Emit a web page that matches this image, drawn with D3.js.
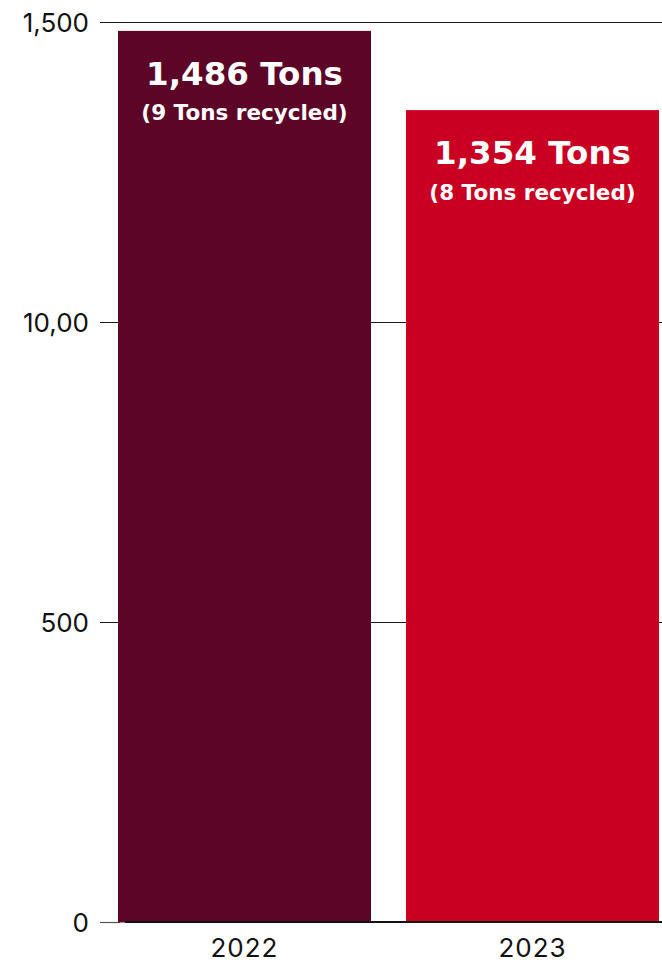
<!DOCTYPE html>
<html>
<head>
<meta charset="utf-8">
<script src="https://cdn.jsdelivr.net/npm/d3@7"></script>
<style>
  html, body { margin: 0; padding: 0; background: #fff; }
  svg { display: block; }
</style>
</head>
<body>
<svg id="chart" width="662" height="964"></svg>
<script>
const years = ["2022", "2023"];
const tons = [1486, 1354];
const recycled = [9, 8];
const barColors = ["#5c0527", "#c90022"];
const tickValues = [0, 500, 1000, 1500];
const tickLabels = ["0", "500", "10,00", "1,500"];

const svg = d3.select("#chart");
const W = 662, H = 964;

const y = d3.scaleLinear().domain([0, 1500]).range([922.5, 22.5]);
const x = d3.scaleBand().domain(years).range([118, 659]).paddingInner(0.1215).paddingOuter(0);

// gridlines
svg.append("g").selectAll("line")
  .data(tickValues.filter(d => d > 0))
  .join("line")
  .attr("x1", 100).attr("x2", W)
  .attr("y1", d => y(d)).attr("y2", d => y(d))
  .attr("stroke", "#1a1a1a").attr("stroke-width", 1.2);

// zero tick
svg.append("line")
  .attr("x1", 100).attr("x2", 120)
  .attr("y1", y(0)).attr("y2", y(0))
  .attr("stroke", "#555").attr("stroke-width", 1.2);

// y tick labels
svg.append("g").selectAll("text")
  .data(tickValues)
  .join("text")
  .attr("x", 89)
  .attr("y", d => y(d))
  .attr("text-anchor", "end")
  .attr("dominant-baseline", "central")
  .attr("font-family", "Inter, 'Noto Sans', sans-serif")
  .attr("font-size", 26)
  .attr("fill", "#111")
  .text((d, i) => tickLabels[i]);

// bars
svg.append("g").selectAll("rect")
  .data(years)
  .join("rect")
  .attr("x", d => x(d))
  .attr("width", x.bandwidth())
  .attr("y", (d, i) => y(tons[i]))
  .attr("height", (d, i) => y(0) - y(tons[i]))
  .attr("fill", (d, i) => barColors[i]);

// baseline
svg.append("line")
  .attr("x1", 125).attr("x2", W)
  .attr("y1", y(0) - 0.5).attr("y2", y(0) - 0.5)
  .attr("stroke", "#111").attr("stroke-width", 2);

// bar labels
const lab = svg.append("g").selectAll("g")
  .data(years)
  .join("g")
  .attr("transform", (d, i) => `translate(${x(d) + x.bandwidth() / 2},${y(tons[i])})`);

lab.append("text")
  .attr("y", 54)
  .attr("text-anchor", "middle")
  .attr("font-family", "'DejaVu Sans', sans-serif")
  .attr("font-weight", 700)
  .attr("font-size", 32.5)
  .attr("fill", "#fff")
  .text((d, i) => d3.format(",")(tons[i]) + " Tons");

lab.append("text")
  .attr("y", 89.5)
  .attr("text-anchor", "middle")
  .attr("font-family", "'DejaVu Sans', sans-serif")
  .attr("font-weight", 700)
  .attr("font-size", 21.5)
  .attr("fill", "#fff")
  .text((d, i) => `(${recycled[i]} Tons recycled)`);

// x labels
svg.append("g").selectAll("text")
  .data(years)
  .join("text")
  .attr("x", d => x(d) + x.bandwidth() / 2)
  .attr("y", 957)
  .attr("text-anchor", "middle")
  .attr("font-family", "Inter, 'Noto Sans', sans-serif")
  .attr("font-size", 26)
  .attr("letter-spacing", 1)
  .attr("fill", "#111")
  .text(d => d);
</script>
</body>
</html>
